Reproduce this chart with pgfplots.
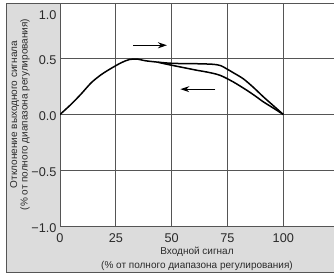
\documentclass[border=0pt]{standalone}
\usepackage{pgfplots}
\pgfplotsset{compat=1.18}
\usepackage{fontspec}
\setmainfont{Liberation Sans}
\usetikzlibrary{arrows.meta}
\definecolor{bg}{HTML}{DCDCDC}
\definecolor{gridc}{HTML}{555555}
\definecolor{tickc}{HTML}{2A2A2A}
\begin{document}
\begin{tikzpicture}
\clip (-60pt,-49pt) rectangle (274pt,226pt);
\fill[bg] (-54pt,-46.7pt) rectangle (300pt,223pt);
\draw[gridc, line width=0.8pt] (300pt,-46.7pt) -- (-54pt,-46.7pt) -- (-54pt,223pt) -- (300pt,223pt);
\begin{axis}[
  at={(0pt,0pt)}, anchor=south west,
  scale only axis, width=274pt, height=223pt,
  xmin=0, xmax=122.7, ymin=-1, ymax=1,
  axis background/.style={fill=white},
  grid=major,
  major grid style={gridc, line width=0.8pt},
  axis line style={gridc, line width=0.8pt},
  xtick={0,25,50,75,100},
  xticklabels={0,25,50,75,100},
  ytick={-1,-0.5,0,0.5},
  yticklabels={−1.0,−0.5,0.0,0.5},
  extra y ticks={1},
  extra y tick labels={1.0},
  extra y tick style={yticklabel style={yshift=-10pt}},
  major tick length=0pt,
  tick label style={font=\fontsize{12.7}{14}\selectfont, text=tickc},
  yticklabel style={yshift=-1.8pt},
  xticklabel style={yshift=-4pt},
  xlabel={Входной сигнал\\(\% от полного диапазона регулирования)},
  xlabel style={at={(axis description cs:0.5,0)}, anchor=north, yshift=-21pt, inner sep=0pt, align=center, font=\fontsize{10}{13.5}\selectfont, text=tickc},
  ylabel={Отклонение выходного сигнала\\(\% от полного диапазона регулирования)},
  ylabel style={at={(axis description cs:0,0.5)}, anchor=south, yshift=30pt, inner sep=0pt, align=center, font=\fontsize{10}{10.5}\selectfont, text=tickc},
]
\addplot[black, line width=1.5pt, smooth] coordinates {
(0,0) (5.1,0.094) (9.5,0.185) (14,0.285) (18.5,0.358) (23,0.415) (27.5,0.465) (31.2,0.494)
(34.9,0.496) (38.6,0.481) (47.8,0.462) (53.7,0.457) (62,0.455) (68.7,0.45) (72,0.438) (74.6,0.41)
(78,0.37) (82.1,0.32) (86.5,0.245) (91.1,0.158) (95.5,0.08) (100,0)
};
\addplot[black, line width=1.5pt, smooth] coordinates {
(100,0) (95.5,0.058) (91.1,0.113) (87.5,0.165) (83.6,0.218) (77.6,0.292) (71.6,0.352)
(66,0.38) (61.2,0.397) (53.7,0.427) (48,0.45) (44,0.468)
};
\addplot[black, line width=1pt, -{Stealth[length=9pt, width=6pt]}] coordinates {(32.8,0.621) (47.9,0.621)};
\addplot[black, line width=1pt, -{Stealth[length=9pt, width=6pt]}] coordinates {(69.6,0.227) (53.9,0.227)};
\end{axis}
\end{tikzpicture}
\end{document}
